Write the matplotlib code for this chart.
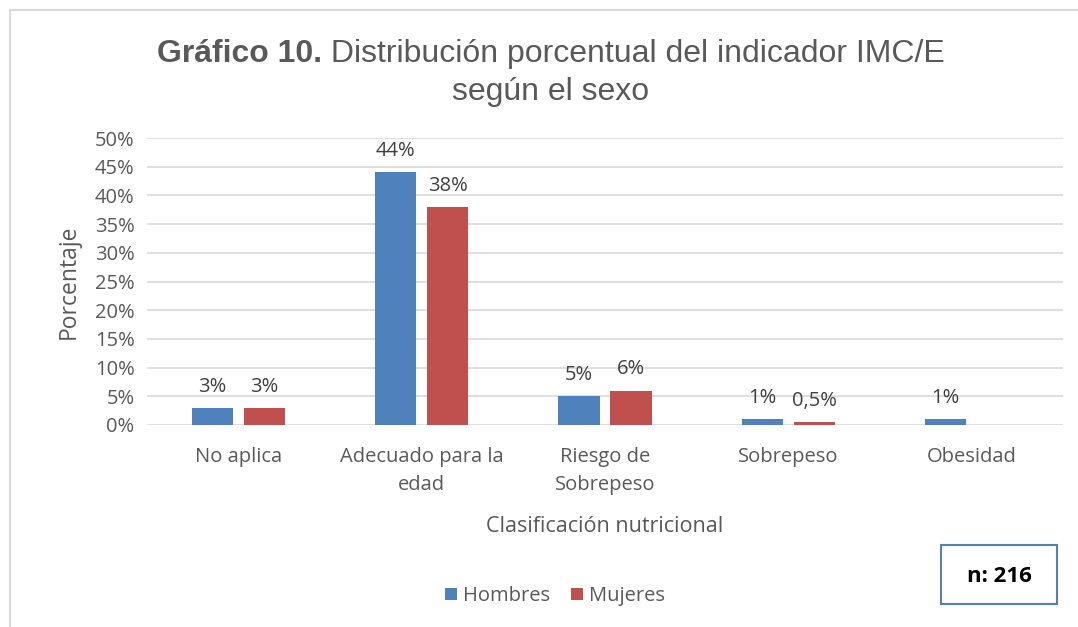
import numpy as np
import matplotlib
matplotlib.use("Agg")
from matplotlib import pyplot as plt
from matplotlib.patches import Rectangle

categorias = ['No aplica', 'Adecuado para la\nedad', 'Riesgo de\nSobrepeso', 'Sobrepeso', 'Obesidad']
hombres = [3, 44, 5, 1, 1]
mujeres = [3, 38, 6, 0.5, 0]
etiq_h = ['3%', '44%', '5%', '1%', '1%']
etiq_m = ['3%', '38%', '6%', '0,5%', '']
yticks = [0, 5, 10, 15, 20, 25, 30, 35, 40, 45, 50]

azul = '#4f81bd'
rojo = '#c0504d'
gris = '#595959'
font_ax = 'Open Sans'

fig = plt.figure(figsize=(10.78, 6.27), dpi=100)
W, H = 1078, 627

# outer chart frame
fig.patches.append(Rectangle((10 / W, -0.1), 1.2, (H - 10) / H + 0.1, transform=fig.transFigure,
                             fill=False, ec='#d9d9d9', lw=1.5))

ax = fig.add_axes([147 / W, 1 - 425 / H, (1063 - 147) / W, (425 - 138) / H])
x = np.arange(len(categorias))
bw = 0.225
b1 = ax.bar(x - 0.142, hombres, bw, color=azul, zorder=3)
b2 = ax.bar(x + 0.142, mujeres, bw, color=rojo, zorder=3)
for rect, t in zip(b1, etiq_h):
    ax.annotate(t, (rect.get_x() + rect.get_width() / 2, rect.get_height()), xytext=(0, 8),
                textcoords='offset points', ha='center', va='bottom', fontsize=14.5, color='#404040',
                family=font_ax)
for rect, t in zip(b2, etiq_m):
    ax.annotate(t, (rect.get_x() + rect.get_width() / 2, rect.get_height()), xytext=(0, 8),
                textcoords='offset points', ha='center', va='bottom', fontsize=14.5, color='#404040',
                family=font_ax)

ax.set_xlim(-0.5, len(categorias) - 0.5)
ax.set_ylim(0, 50)
ax.set_yticks(yticks)
ax.set_yticklabels([f'{v}%' for v in yticks], fontsize=14.5, color=gris, family=font_ax)
ax.set_xticks(x)
ax.set_xticklabels(categorias, fontsize=14.5, color=gris, family=font_ax, va='top', linespacing=1.5)
ax.tick_params(length=0, pad=9)
ax.tick_params(axis='x', pad=16)
ax.grid(axis='y', color='#d9d9d9', lw=1.2, zorder=0)
for s in ax.spines.values():
    s.set_visible(False)
ax.set_ylabel('Porcentaje', fontsize=16.5, color=gris, family=font_ax, labelpad=10)
ax.set_xlabel('Clasificación nutricional', fontsize=15.5, color=gris, family=font_ax, labelpad=15)

# title with bold prefix
fig.canvas.draw()
r = fig.canvas.get_renderer()
tsize = 23
t1 = fig.text(0, 0, 'Gráfico 10.', fontsize=tsize, weight='bold', color=gris, family='Liberation Sans')
t2 = fig.text(0, 0, ' Distribución porcentual del indicador IMC/E', fontsize=tsize, color=gris,
              family='Liberation Sans')
w1 = t1.get_window_extent(r).width
w2 = t2.get_window_extent(r).width
x0 = 551 - (w1 + w2) / 2
y1 = 1 - 62 / H
t1.set_position((x0 / W, y1))
t2.set_position(((x0 + w1) / W, y1))
fig.text(551 / W, 1 - 100 / H, 'según el sexo', fontsize=tsize, color=gris, family='Liberation Sans',
         ha='center')

leg = fig.legend([b1, b2], ['Hombres', 'Mujeres'], loc='center', bbox_to_anchor=(555 / W, 1 - 596 / H),
                 ncol=2, frameon=False, handlelength=0.6, handleheight=0.6, handletextpad=0.3,
                 columnspacing=1.0, prop={'family': font_ax, 'size': 14.5})
for t in leg.get_texts():
    t.set_color(gris)

fig.patches.append(Rectangle((941 / W, 1 - 604 / H), 116 / W, 59 / H, transform=fig.transFigure,
                             fill=False, ec='#4f81bd', lw=1.5))
fig.text(999 / W, 1 - 576 / H, 'n: 216', fontsize=16, weight='bold', color='black', family=font_ax,
         ha='center', va='center')

fig.savefig('out.png', dpi=100)
